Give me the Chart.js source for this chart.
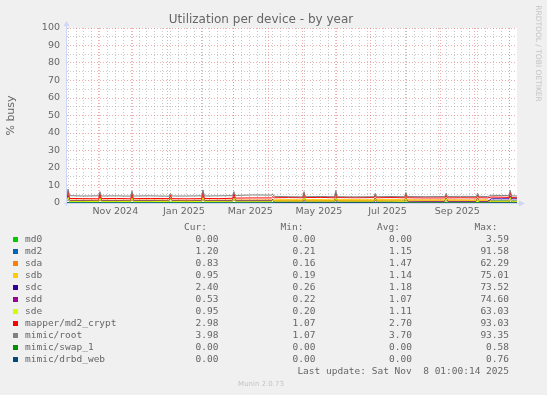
<!DOCTYPE html>
<html>
<head>
<meta charset="utf-8">
<script src="https://cdn.jsdelivr.net/npm/chart.js@4.4.1/dist/chart.umd.min.js"></script>
<style>
  html, body { margin: 0; padding: 0; background: #F0F0F0; }
  canvas { display: block; }
</style>
</head>
<body>
<canvas id="chart" width="547" height="395"></canvas>
<script>
// x = days since the start of the graph (Fri Oct 4 2024 01:00), 400 days shown
const days = [0, 1, 2.2, 14, 28.1, 29.3, 30.5, 44, 56.6, 57.8, 59, 74, 90.8, 92, 93.2, 106,
  119.7, 120.9, 122.1, 135, 147.2, 148.4, 149.6, 165, 181.8, 183, 184.2, 197, 209.5, 210.7, 211.9, 225,
  237.8, 239, 240.2, 256, 272.8, 274, 275.2, 288, 300.1, 301.3, 302.5, 319, 335.8, 337, 338.2, 350,
  363.8, 365, 366.2, 374, 377, 386, 392.8, 394, 395.2, 400];

const md0 = [0, 0.4, 0, 0, 0, 0.4, 0, 0, 0, 0.4, 0, 0, 0, 0.4, 0, 0,
  0, 0.4, 0, 0, 0, 0.4, 0, 0, 0, 0.3, 0, 0, 0, 0.4, 0, 0,
  0, 0.4, 0, 0, 0, 0.4, 0, 0, 0, 0.4, 0, 0, 0, 0.4, 0, 0,
  0, 0.4, 0, 0, 0, 0, 0, 0.4, 0, 0];
const md2 = [1.4, 4.0, 1.3, 1.3, 1.2, 3.2, 1.3, 1.3, 1.2, 3.4, 1.3, 1.3, 1.2, 2.7, 1.3, 1.2,
  1.3, 3.7, 1.3, 1.3, 1.4, 3.2, 1.4, 1.4, 1.4, 2.0, 1.0, 0.9, 0.9, 3.2, 0.9, 0.9,
  0.9, 3.5, 0.9, 0.9, 0.9, 2.7, 0.9, 1.0, 1.0, 3.0, 1.0, 1.0, 1.0, 2.7, 1.0, 1.0,
  1.0, 2.7, 1.0, 1.0, 1.3, 1.3, 1.3, 3.6, 1.3, 1.20];
const sda = [1.8, 4.4, 1.6, 1.6, 1.5, 3.6, 1.6, 1.6, 1.5, 3.7, 1.6, 1.7, 1.6, 3.0, 1.6, 1.5,
  1.6, 4.1, 1.6, 1.6, 1.7, 3.6, 1.7, 1.7, 1.7, 2.3, 1.5, 1.5, 1.4, 3.6, 1.5, 1.5,
  1.4, 3.8, 1.5, 1.5, 1.5, 3.0, 1.5, 1.6, 1.6, 3.3, 1.7, 1.7, 1.7, 3.0, 1.7, 1.7,
  1.6, 3.0, 1.7, 1.6, 0.9, 0.9, 0.9, 4.0, 0.9, 0.83];
const sdb = [1.3, 4.0, 1.2, 1.2, 1.1, 3.2, 1.2, 1.2, 1.1, 3.4, 1.2, 1.2, 1.1, 2.7, 1.2, 1.1,
  1.2, 3.7, 1.2, 1.2, 1.3, 3.2, 1.3, 1.3, 1.3, 2.0, 1.8, 1.9, 1.8, 3.5, 1.9, 1.9,
  1.8, 3.7, 1.9, 1.9, 1.8, 3.0, 1.9, 1.9, 1.8, 3.2, 1.7, 1.6, 1.6, 2.9, 1.6, 1.6,
  1.5, 2.9, 1.6, 1.6, 1.0, 1.0, 1.0, 3.5, 1.0, 0.95];
const sdc = [1.2, 3.8, 1.1, 1.1, 1.0, 3.1, 1.1, 1.1, 1.0, 3.3, 1.1, 1.1, 1.0, 2.6, 1.1, 1.0,
  1.1, 3.6, 1.1, 1.1, 1.2, 3.1, 1.2, 1.2, 1.2, 1.9, 0.7, 0.7, 0.7, 3.1, 0.7, 0.7,
  0.7, 3.4, 0.7, 0.7, 0.7, 2.6, 0.7, 0.8, 0.8, 2.9, 0.8, 0.8, 0.8, 2.6, 0.8, 0.8,
  0.8, 2.6, 0.8, 0.8, 2.4, 2.4, 2.4, 3.8, 2.4, 2.40];
const sdd = [1.1, 3.6, 1.0, 1.0, 0.9, 3.0, 1.0, 1.0, 0.9, 3.1, 1.0, 1.0, 0.9, 2.5, 1.0, 0.9,
  1.0, 3.4, 1.0, 1.0, 1.1, 3.0, 1.1, 1.1, 1.1, 1.8, 0.6, 0.6, 0.6, 3.0, 0.6, 0.6,
  0.6, 3.2, 0.6, 0.6, 0.6, 2.5, 0.6, 0.7, 0.7, 2.8, 0.7, 0.7, 0.7, 2.5, 0.7, 0.7,
  0.7, 2.5, 0.7, 0.7, 0.6, 0.6, 0.6, 3.3, 0.6, 0.53];
const sde = [1.0, 3.4, 0.9, 0.9, 0.8, 2.8, 0.9, 0.9, 0.8, 3.0, 0.9, 0.9, 0.8, 2.4, 0.9, 0.8,
  0.9, 3.3, 0.9, 0.9, 1.0, 2.8, 1.0, 1.0, 1.0, 1.7, 1.0, 1.0, 1.0, 2.9, 1.0, 1.0,
  1.0, 3.1, 1.0, 1.0, 1.0, 2.4, 1.0, 1.0, 0.9, 2.6, 0.5, 0.4, 0.4, 2.4, 0.4, 0.4,
  0.4, 2.4, 0.4, 0.4, 1.0, 1.0, 1.0, 3.2, 1.0, 0.95];
const md2Crypt = [3.0, 6.8, 2.6, 2.5, 2.4, 5.3, 2.5, 2.6, 2.4, 5.6, 2.5, 2.6, 2.5, 4.4, 2.5, 2.4,
  2.5, 6.3, 2.6, 2.5, 2.7, 5.3, 2.8, 2.9, 2.9, 3.6, 3.0, 3.1, 3.0, 5.3, 3.1, 3.2,
  3.0, 5.8, 3.1, 3.0, 3.1, 4.4, 3.0, 3.1, 3.0, 4.9, 3.0, 2.9, 2.9, 4.4, 2.9, 3.0,
  2.9, 4.4, 3.0, 2.9, 3.4, 3.3, 3.2, 6.0, 3.1, 2.98];
const mimicRoot = [4.6, 8.0, 4.2, 4.0, 4.1, 6.5, 4.0, 4.1, 3.9, 6.8, 4.0, 4.1, 3.9, 5.5, 4.0, 4.0,
  4.1, 7.5, 4.0, 4.1, 4.2, 6.5, 4.3, 4.6, 4.5, 5.0, 3.8, 3.6, 3.5, 6.5, 3.6, 3.7,
  3.6, 7.0, 3.6, 3.5, 3.6, 5.5, 3.6, 3.7, 3.6, 6.0, 3.7, 3.6, 3.7, 5.5, 3.7, 3.8,
  3.7, 5.5, 3.8, 3.7, 4.4, 4.3, 4.2, 7.2, 4.1, 3.98];
const mimicSwap = [0, 0, 0, 0, 0, 0, 0, 0, 0, 0, 0, 0, 0, 0, 0, 0,
  0, 0, 0, 0, 0, 0, 0, 0, 0, 0, 0, 0, 0, 0, 0, 0,
  0, 0, 0, 0, 0, 0, 0, 0, 0, 0, 0, 0, 0, 0, 0, 0,
  0, 0, 0, 0, 0, 0, 0, 0, 0, 0];
const mimicDrbd = [0, 0, 0, 0, 0, 0, 0, 0, 0, 0, 0, 0, 0, 0, 0, 0,
  0, 0, 0, 0, 0, 0, 0, 0, 0, 0, 0, 0, 0, 0, 0, 0,
  0, 0, 0, 0, 0, 0, 0, 0, 0, 0, 0, 0, 0, 0, 0, 0,
  0, 0, 0, 0, 0, 0, 0, 0, 0, 0];

const seriesNames = ["md0", "md2", "sda", "sdb", "sdc", "sdd", "sde",
  "mapper/md2_crypt", "mimic/root", "mimic/swap_1", "mimic/drbd_web"];
const seriesValues = [md0, md2, sda, sdb, sdc, sdd, sde, md2Crypt, mimicRoot, mimicSwap, mimicDrbd];
const seriesColors = ["#00CC00", "#0066B3", "#FF8000", "#FFCC00", "#330099", "#990099",
  "#CCFF00", "#FF0000", "#808080", "#008F00", "#00487D"];

const legendCur = ["0.00", "1.20", "0.83", "0.95", "2.40", "0.53", "0.95", "2.98", "3.98", "0.00", "0.00"];
const legendMin = ["0.00", "0.21", "0.16", "0.19", "0.26", "0.22", "0.20", "1.07", "1.07", "0.00", "0.00"];
const legendAvg = ["0.00", "1.15", "1.47", "1.14", "1.18", "1.07", "1.11", "2.70", "3.70", "0.00", "0.00"];
const legendMax = ["3.59", "91.58", "62.29", "75.01", "73.52", "74.60", "63.03", "93.03", "93.35", "0.58", "0.76"];

// y grid every 5, labels every 10
const yTickValues = [0, 5, 10, 15, 20, 25, 30, 35, 40, 45, 50, 55, 60, 65, 70, 75, 80, 85, 90, 95, 100];
const yTickLabels = ["0", "", "10", "", "20", "", "30", "", "40", "", "50", "", "60", "", "70", "",
  "80", "", "90", "", "100"];

// month starts (major grid) and month labels (drawn mid-month, like rrdtool)
const monthStartDays = [27.96, 57.96, 88.96, 119.96, 147.96, 178.96, 208.96, 239.96,
  269.96, 300.96, 331.96, 361.96, 392.96];
const labelDays = [42.96, 103.96, 162.96, 223.96, 284.96, 346.96];
const labelTexts = ["Nov 2024", "Jan 2025", "Mar 2025", "May 2025", "Jul 2025", "Sep 2025"];
const firstWeekDay = 1;

const FONT = "#666666";
const AXIS = "#CFD6F8";
const GRID = "rgba(150,150,150,0.5)";
const MGRID = "rgba(225,90,90,0.5)";
const NONE = "rgba(0,0,0,0)";

const xTicks = [];
for (let d = firstWeekDay; d < 400; d += 7) xTicks.push({value: d, kind: "week"});
monthStartDays.forEach(d => xTicks.push({value: d, kind: "month"}));
labelDays.forEach((d, i) => xTicks.push({value: d, kind: "label", text: labelTexts[i]}));
xTicks.sort((a, b) => a.value - b.value);

const yTicks = yTickValues.map((v, i) => ({
  value: v, kind: yTickLabels[i] ? "major" : "minor", text: yTickLabels[i]
}));

const datasets = seriesNames.map((name, i) => ({
  label: name,
  data: days.map((d, j) => ({x: d, y: seriesValues[i][j]})),
  borderColor: seriesColors[i],
  backgroundColor: seriesColors[i],
  borderWidth: 1,
  pointRadius: 0,
  fill: false,
  tension: 0,
  order: seriesNames.length - i
}));

const muninPlugin = {
  id: "munin",
  beforeDraw(chart) {
    const {ctx, chartArea: a} = chart;
    ctx.save();
    ctx.fillStyle = "#F0F0F0";
    ctx.fillRect(0, 0, chart.width, chart.height);
    ctx.fillStyle = "#FFFFFF";
    ctx.fillRect(a.left, a.top, a.right - a.left, a.bottom - a.top);
    ctx.restore();
  },
  afterDraw(chart) {
    const {ctx, chartArea: a} = chart;
    ctx.save();

    // axes with arrows
    const ax = a.left - 0.5, ay = a.bottom + 0.5;
    ctx.strokeStyle = AXIS;
    ctx.fillStyle = AXIS;
    ctx.lineWidth = 1;
    ctx.beginPath();
    ctx.moveTo(ax, a.bottom + 3); ctx.lineTo(ax, a.top - 3);
    ctx.moveTo(a.left - 3, ay); ctx.lineTo(a.right + 3, ay);
    ctx.stroke();
    ctx.beginPath();
    ctx.moveTo(ax - 3, a.top - 2); ctx.lineTo(ax, a.top - 7); ctx.lineTo(ax + 3, a.top - 2);
    ctx.closePath(); ctx.fill();
    ctx.beginPath();
    ctx.moveTo(a.right + 2, ay - 3); ctx.lineTo(a.right + 8, ay); ctx.lineTo(a.right + 2, ay + 3);
    ctx.closePath(); ctx.fill();

    // title
    ctx.fillStyle = FONT;
    ctx.textBaseline = "middle";
    ctx.textAlign = "center";
    ctx.font = "12px 'DejaVu Sans'";
    ctx.fillText("Utilization per device - by year", 261, 19.5);

    // vertical label
    ctx.save();
    ctx.translate(11, 115.5);
    ctx.rotate(-Math.PI / 2);
    ctx.font = "11px 'DejaVu Sans'";
    ctx.fillText("% busy", 0, 0);
    ctx.restore();

    // rrdtool watermark on the right
    ctx.save();
    ctx.translate(538, 53.5);
    ctx.rotate(Math.PI / 2);
    ctx.fillStyle = "#C4C4C4";
    ctx.font = "7.5px 'DejaVu Sans'";
    ctx.fillText("RRDTOOL / TOBI OETIKER", 0, 0);
    ctx.restore();

    // legend table
    ctx.font = "9.5px 'DejaVu Sans Mono'";
    ctx.textAlign = "right";
    const headY = 227.7;
    ctx.fillText("Cur:", 207, headY);
    ctx.fillText("Min:", 303.5, headY);
    ctx.fillText("Avg:", 400, headY);
    ctx.fillText("Max:", 497.5, headY);
    seriesNames.forEach((name, i) => {
      const y = 239.7 + i * 12;
      ctx.fillStyle = seriesColors[i];
      ctx.fillRect(13, Math.round(y) - 3, 5, 5);
      ctx.fillStyle = FONT;
      ctx.textAlign = "left";
      ctx.fillText(name, 25, y);
      ctx.textAlign = "right";
      ctx.fillText(legendCur[i], 218.5, y);
      ctx.fillText(legendMin[i], 315.5, y);
      ctx.fillText(legendAvg[i], 412, y);
      ctx.fillText(legendMax[i], 509, y);
    });
    ctx.fillText("Last update: Sat Nov  8 01:00:14 2025", 509, 371.7);

    ctx.textAlign = "center";
    ctx.fillStyle = "#C4C4C4";
    ctx.font = "7px 'DejaVu Sans'";
    ctx.fillText("Munin 2.0.73", 261, 383.7);
    ctx.restore();
  }
};

function gridColor(c) {
  if (!c.tick) return NONE;
  if (c.tick.kind === "month" || c.tick.kind === "major") return MGRID;
  if (c.tick.kind === "week" || c.tick.kind === "minor") return GRID;
  return NONE;
}

new Chart(document.getElementById("chart"), {
  type: "line",
  data: {datasets},
  plugins: [muninPlugin],
  options: {
    responsive: false,
    animation: false,
    events: [],
    layout: {padding: {top: 28, right: 30, bottom: 0, left: 0}},
    plugins: {legend: {display: false}, tooltip: {enabled: false}},
    scales: {
      x: {
        type: "linear",
        min: 0,
        max: 400,
        bounds: "data",
        afterFit: s => { s.height = 192; },
        afterBuildTicks: s => { s.ticks = xTicks.map(t => Object.assign({}, t)); },
        border: {display: false, dash: [1, 2]},
        grid: {drawTicks: false, lineWidth: 1, color: gridColor},
        ticks: {
          autoSkip: false,
          maxRotation: 0,
          padding: 3,
          color: FONT,
          font: {family: "DejaVu Sans", size: 9.5},
          callback: (v, i, ticks) => ticks[i].text || ""
        }
      },
      y: {
        type: "linear",
        min: 0,
        max: 100,
        bounds: "data",
        afterFit: s => { s.width = 67; },
        afterBuildTicks: s => { s.ticks = yTicks.map(t => Object.assign({}, t)); },
        border: {display: false, dash: [1, 2]},
        grid: {drawTicks: false, lineWidth: 1, color: gridColor},
        ticks: {
          autoSkip: false,
          padding: 7,
          color: FONT,
          font: {family: "DejaVu Sans", size: 9.5},
          callback: (v, i, ticks) => ticks[i].text || ""
        }
      }
    }
  }
});
</script>
</body>
</html>
